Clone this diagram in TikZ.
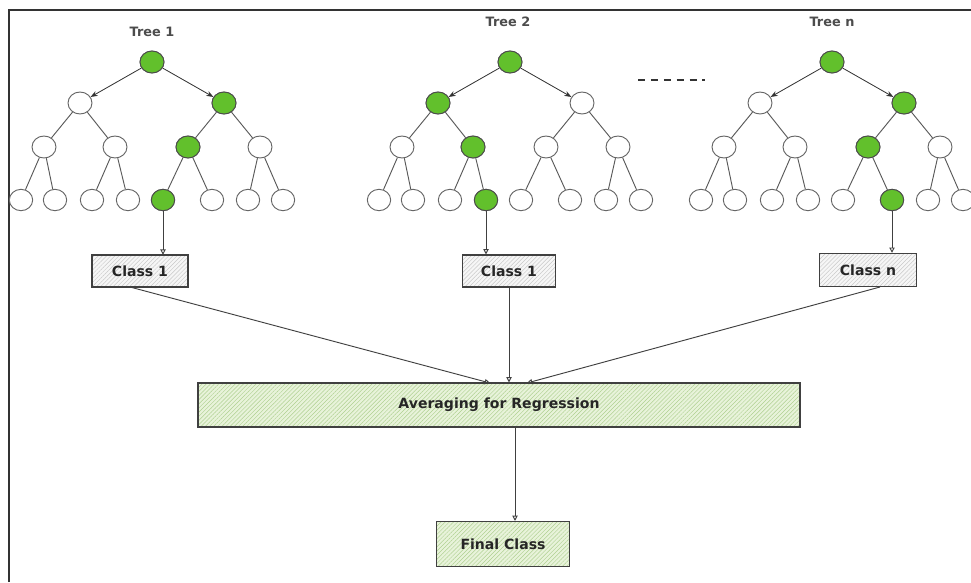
\documentclass[tikz,border=0pt]{standalone}
\usepackage{fontspec}
\setsansfont{DejaVu Sans}
\usetikzlibrary{arrows.meta,shapes.geometric,patterns.meta}
\definecolor{nodegreen}{RGB}{98,192,44}
\definecolor{hatchgreen}{RGB}{175,208,145}
\definecolor{boxgreen}{RGB}{232,243,218}
\definecolor{hatchgray}{RGB}{200,200,200}
\definecolor{boxgray}{RGB}{246,246,246}

\tikzset{
  tnode/.style={ellipse, draw=gray!80!black, line width=0.8pt, minimum width=0.72cm, minimum height=0.66cm, inner sep=0pt},
  lnode/.style={tnode, minimum width=0.7cm, minimum height=0.64cm},
  gnode/.style={fill=nodegreen, draw=black!70},
  edge/.style={draw=gray!70!black, line width=0.8pt},
  rootedge/.style={draw=black!80, line width=0.7pt, -{Stealth[length=6pt,width=4.5pt]}},
  flow/.style={draw=black!75, line width=0.8pt, -{Triangle[open,length=4.5pt,width=4.5pt]}},
  hatchbox/.style={draw=gray!50!black, line width=0.9pt, pattern={Lines[angle=45,distance=2.5pt,line width=0.4pt]}, font=\sffamily\bfseries\fontsize{12}{14}\selectfont, text=black!85, inner sep=0pt},
  classbox/.style={hatchbox, preaction={fill=boxgray}, pattern color=hatchgray},
  greenbox/.style={hatchbox, preaction={fill=boxgreen}, pattern color=hatchgreen},
  treelabel/.style={font=\sffamily\bfseries\fontsize{11}{13}\selectfont, text=gray!60!black}
}

\begin{document}
\begin{tikzpicture}[x=0.03cm, y=-0.03cm]
  \useasboundingbox (0,0) rectangle (971,582);
  \draw[gray!40!black, line width=1.2pt] (9,582) -- (9,10) -- (971,10);

  \foreach \t/\rx in {1/152,2/510,n/832}{
    \node[tnode] (r\t) at (\rx,62) {};
    \node[tnode] (a\t) at (\rx-72,103) {};
    \node[tnode] (b\t) at (\rx+72,103) {};
    \foreach \i/\dx in {1/-108,2/-37,3/36,4/108}
      \node[tnode] (c\t\i) at (\rx+\dx,147) {};
    \foreach \i/\dx in {1/-131,2/-97,3/-60,4/-24,5/11,6/60,7/96,8/131}
      \node[lnode] (d\t\i) at (\rx+\dx,200) {};
    \draw[rootedge] (r\t) -- (a\t);
    \draw[rootedge] (r\t) -- (b\t);
    \draw[edge] (a\t) -- (c\t1) (a\t) -- (c\t2) (b\t) -- (c\t3) (b\t) -- (c\t4);
    \foreach \i/\j/\k in {1/1/2,2/3/4,3/5/6,4/7/8}
      \draw[edge] (c\t\i) -- (d\t\j) (c\t\i) -- (d\t\k);
  }
  \foreach \g in {r1,b1,c13,r2,a2,c22,rn,bn,cn3}
    \node[tnode,gnode] at (\g) {};
  \foreach \g in {d15,d24,dn6}
    \node[lnode,gnode] at (\g) {};

  \node[treelabel] (lab1) at (152,32) {Tree 1};
  \node[treelabel] (lab2) at (508,22) {Tree 2};
  \node[treelabel] (labn) at (832,22) {Tree n};
  \draw[black!80, line width=0.9pt, dash pattern=on 6pt off 5pt] (638,80) -- (705,80);

  \node[classbox, minimum width=2.88cm, minimum height=0.96cm] (cls1) at (140,271) {Class 1};
  \node[classbox, minimum width=2.79cm, minimum height=0.96cm] (cls2) at (509,271) {Class 1};
  \node[classbox, minimum width=2.91cm, minimum height=1.0cm] (clsn) at (868,270) {Class n};
  \node[greenbox, minimum width=18.06cm, minimum height=1.32cm] (avg) at (499,405) {Averaging for Regression};
  \node[greenbox, minimum width=3.99cm, minimum height=1.35cm] (fin) at (503,544) {Final Class};

  \draw[flow] (d15) -- (d15 |- cls1.north);
  \draw[flow] (d24) -- (d24 |- cls2.north);
  \draw[flow] (dn6) -- (dn6 |- clsn.north);
  \coordinate (in1) at (490,383);
  \coordinate (in3) at (527,383);
  \coordinate (out1) at (130,287);
  \coordinate (outn) at (880,287);
  \coordinate (avgout) at (515,427);
  \draw[flow] (out1) -- (in1);
  \draw[flow] (cls2.south) -- (cls2.south |- avg.north);
  \draw[flow] (outn) -- (in3);
  \draw[flow] (avgout) -- (avgout |- fin.north);
\end{tikzpicture}
\end{document}
